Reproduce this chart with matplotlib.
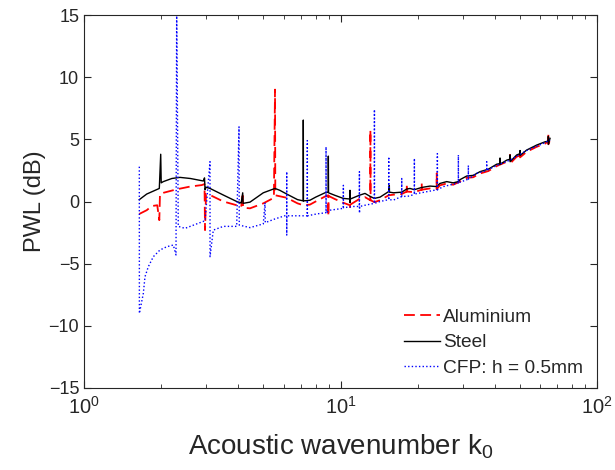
import matplotlib
matplotlib.use("Agg")
import matplotlib.pyplot as plt
from matplotlib.ticker import LogLocator, FixedLocator

plt.rcParams['font.family'] = ['Liberation Sans', 'DejaVu Sans']
plt.rcParams['mathtext.fontset'] = 'custom'
plt.rcParams['mathtext.rm'] = 'Liberation Sans'
plt.rcParams['mathtext.it'] = 'Liberation Sans:italic'
plt.rcParams['mathtext.bf'] = 'Liberation Sans:bold'

# ---------------- data ----------------
alu_k = [1.643, 1.756, 1.836, 1.93, 1.966, 1.978, 2.04, 2.298, 2.59, 2.877, 2.95, 2.964,
         2.99, 3.1, 3.493, 3.938, 4.1, 4.157, 4.17, 4.438, 5.0, 5.5, 5.555, 5.57, 6.17,
         6.8, 7.16, 7.6, 8.0, 8.7, 8.964, 8.965, 8.98, 9.5, 10.25, 10.89, 10.9, 10.92,
         11.84, 12.46, 13.07, 13.08, 13.1, 13.55, 14.26, 15.41, 16.1, 17.32, 18.12, 18.13,
         18.15, 19.4, 20.73, 20.74, 20.76, 22.34, 23.71, 23.72, 23.74, 24.4, 25.94, 27.5,
         29.2, 31.05, 32.9, 34.99, 37.7, 40.64, 44.5, 45.8, 45.81, 45.83, 48.6, 50.1,
         50.11, 50.13, 53.2, 58.2, 62.7, 64.6, 64.61, 64.63, 65.6]
alu_db = [-1.0, -0.7, -0.37, -0.3, -1.5, 0.6, 0.7, 0.98, 1.2, 1.32, 1.4, -2.3,
          0.6, 0.52, 0.0, -0.3, -0.45, 0.7, -0.5, -0.55, -0.15, 0.3, 9.0, 0.5, 0.3,
          -0.15, -0.3, -0.25, 0.0, 0.4, 0.5, -1.2, 0.45, 0.2, -0.1, -0.3, -0.6, -0.25,
          0.2, 0.35, 0.1, 5.75, 0.1, -0.05, 0.1, 0.5, 0.55, 0.6, 0.8, 1.4,
          0.8, 0.75, 0.95, 1.5, 0.95, 1.05, 1.0, 2.27, 1.0, 1.3, 1.45, 1.35,
          1.6, 1.9, 1.95, 2.25, 2.45, 2.85, 3.2, 3.25, 3.75, 3.05, 3.6, 3.7,
          4.0, 3.55, 4.0, 4.4, 4.65, 4.85, 5.5, 4.6, 4.95]

steel_k = [1.643, 1.756, 1.966, 1.991, 2.0, 2.038, 2.2, 2.367, 2.6, 2.919, 2.95, 2.964,
           2.99, 3.1, 3.493, 3.938, 4.1, 4.157, 4.17, 4.438, 5.0, 5.555, 5.8, 6.17, 6.8,
           7.16, 7.161, 7.17, 7.6, 8.0, 8.7, 8.964, 8.965, 8.98, 9.5, 10.25, 10.88, 10.89,
           10.9, 10.92, 11.84, 12.46, 13.07, 13.55, 14.26, 15.41, 15.5, 15.52, 16.1, 17.32,
           18.12, 18.66, 19.4, 20.73, 22.34, 23.71, 24.4, 25.94, 27.5, 28.8, 29.2, 31.05,
           32.9, 34.99, 37.7, 40.64, 41.87, 41.88, 41.9, 44.5, 45.8, 45.81, 45.83, 48.6,
           50.1, 50.11, 50.13, 53.2, 58.2, 62.7, 64.6, 64.61, 64.63, 65.6]
steel_db = [0.15, 0.6, 1.05, 3.8, 1.5, 1.6, 1.85, 1.94, 1.85, 1.65, 1.9, 0.95,
            1.15, 1.05, 0.52, 0.0, -0.12, 0.7, -0.15, -0.05, 0.7, 1.05, 0.9, 0.6, 0.15,
            0.05, 6.55, 0.05, 0.1, 0.35, 0.7, 0.75, 3.65, 0.7, 0.5, 0.25, 0.2, 0.9,
            -0.1, 0.2, 0.5, 0.65, 0.4, 0.25, 0.35, 0.8, 1.3, 0.75, 0.7, 0.75,
            1.0, 1.05, 0.95, 1.13, 1.24, 1.2, 1.45, 1.6, 1.5, 1.6, 1.75, 2.05,
            2.1, 2.4, 2.6, 3.0, 3.05, 3.5, 3.0, 3.33, 3.4, 3.75, 3.2, 3.74,
            3.85, 4.1, 3.7, 4.14, 4.54, 4.8, 4.85, 5.25, 4.6, 5.08]

cfp_k = [1.643, 1.644, 1.703, 1.729, 1.781, 1.863, 1.978, 2.101, 2.229, 2.284, 2.298,
         2.331, 2.476, 2.751, 2.964, 3.099, 3.1, 3.192, 3.493, 3.938, 4.021, 4.03, 4.438,
         5.0, 5.078, 5.09, 5.555, 6.17, 6.171, 6.172, 6.18, 6.95, 7.42, 7.424, 7.43,
         8.075, 8.781, 8.782, 8.79, 9.1, 10.25, 10.26, 10.27, 11.2, 11.84, 11.85, 11.86,
         11.87, 12.46, 13.55, 13.56, 13.57, 14.26, 15.41, 15.42, 15.43, 16.1, 17.32, 17.33,
         17.34, 18.66, 19.4, 19.41, 19.42, 21.6, 23.85, 23.86, 23.87, 25.2, 28.8, 28.81,
         28.82, 31.5, 31.51, 31.52, 34.0, 37.15, 37.16, 37.17, 40.64, 45.8, 50.1, 53.2,
         58.2, 61.9, 65.6]
cfp_db = [2.8, -9.0, -7.4, -6.05, -5.25, -4.44, -3.9, -3.64, -3.5, -4.3, 15.5,
          -2.0, -2.16, -1.8, -1.55, 3.2, -4.44, -2.3, -2.0, -2.0, 6.0, -1.9, -2.1,
          -1.8, -0.1, -1.7, -1.4, -1.1, 2.4, -2.7, -1.15, -1.15, -1.15, 4.9, -1.15,
          -1.0, -0.9, 4.4, -0.9, -0.7, -0.55, 1.3, -0.5, -0.4, -0.4, 2.4, -0.93,
          -0.4, -0.3, -0.15, 7.4, -0.15, 0.0, 0.15, 3.6, 0.15, 0.12, 0.4, 1.85,
          0.4, 0.44, 0.6, 3.47, 0.6, 0.78, 0.95, 3.85, 0.95, 1.2, 1.5, 3.74,
          1.5, 1.8, 2.9, 1.8, 2.27, 2.5, 3.2, 2.5, 2.9, 3.33, 3.8, 4.1,
          4.45, 4.68, 4.95]

series_labels = ['Aluminium', 'Steel', 'CFP: h = 0.5mm']
y_ticks = [-15, -10, -5, 0, 5, 10, 15]

# ---------------- plot ----------------
fig = plt.figure(figsize=(6.15, 4.70), dpi=100)
ax = fig.add_axes([84 / 615, 1 - 388 / 470, 513 / 615, 373 / 470])

ax.plot(alu_k, alu_db, color=(1, 0, 0), linestyle=(0, (6, 3)), linewidth=1.3,
        label=series_labels[0])
ax.plot(steel_k, steel_db, color='black', linestyle='-', linewidth=1.0,
        label=series_labels[1])
ax.plot(cfp_k, cfp_db, color=(0, 0, 1), linestyle=(0, (1, 1.6)), linewidth=1.0,
        label=series_labels[2])

ax.set_xscale('log')
ax.set_xlim(1, 100)
ax.set_ylim(-15, 15)
ax.yaxis.set_major_locator(FixedLocator(y_ticks))
ax.xaxis.set_minor_locator(LogLocator(base=10, subs=range(2, 10)))

axcol = (0.15, 0.15, 0.15)
for s in ax.spines.values():
    s.set_color(axcol)
    s.set_linewidth(0.8)
ax.tick_params(which='both', direction='in', top=True, right=True, colors=axcol,
               labelcolor=axcol, labelsize=13)
ax.tick_params(axis='x', which='major', labelsize=14.5, pad=6)
ax.tick_params(which='major', length=5, width=0.8)
ax.tick_params(which='minor', length=3, width=0.6)

ax.set_xlabel('Acoustic wavenumber k$_{\\mathrm{0}}$', fontsize=20, color=axcol, labelpad=10)
ax.set_ylabel('PWL (dB)', fontsize=17, color=axcol, labelpad=2)

leg = ax.legend(loc='lower right', bbox_to_anchor=(0.995, -0.001), frameon=False,
                fontsize=13.8, handlelength=1.9, handletextpad=0.15, labelspacing=0.42,
                borderaxespad=0.2)
for t in leg.get_texts():
    t.set_color(axcol)

fig.savefig('out.png', dpi=100)
